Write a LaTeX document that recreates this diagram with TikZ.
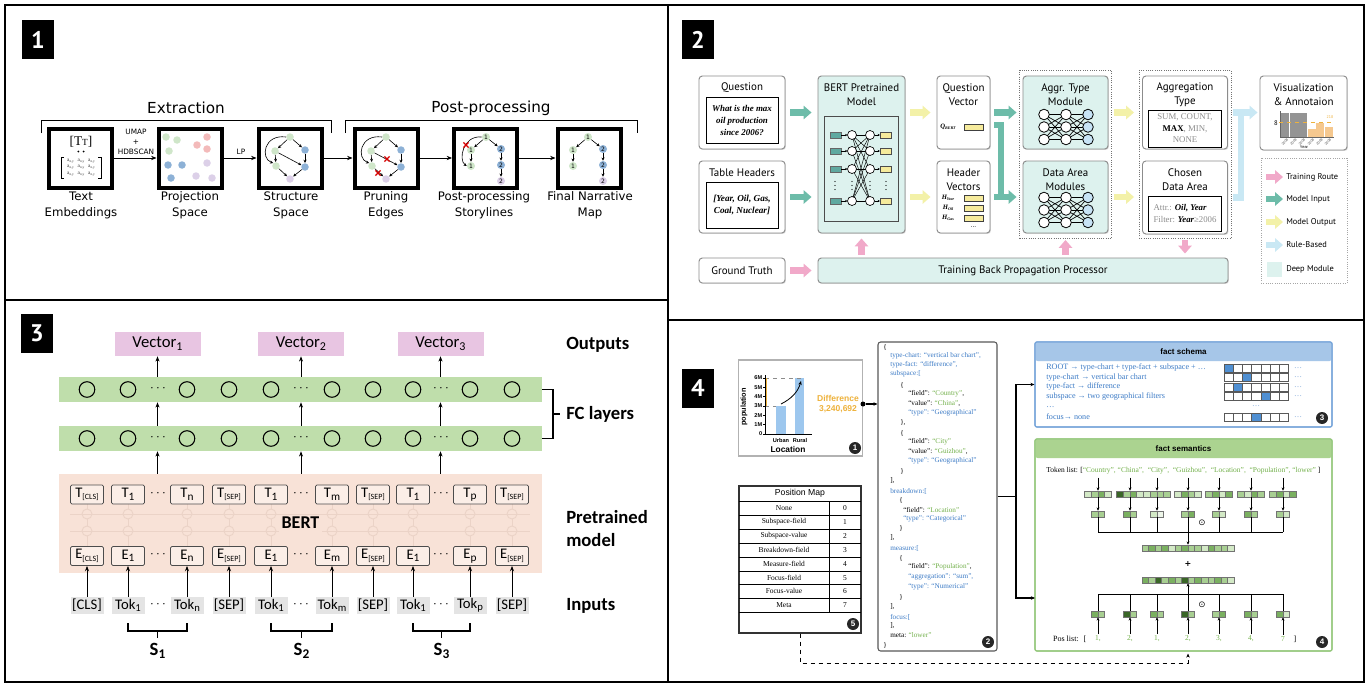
\documentclass[tikz,border=0pt]{standalone}
\usepackage{fontspec}
\setmainfont{Liberation Sans}
\newfontfamily\dejavu{DejaVu Sans}
\newfontfamily\ptsans{PT Sans}
\newfontfamily\carlito{Carlito}
\newfontfamily\timesf{Liberation Serif}
\usetikzlibrary{arrows.meta,calc,shadows}
\definecolor{dteal}{HTML}{DDF2EE}
\definecolor{tealA}{HTML}{6DBCA9}
\definecolor{yelA}{HTML}{F3F1A8}
\definecolor{pinkA}{HTML}{F1A9C9}
\definecolor{blueA}{HTML}{C9E8F4}
\definecolor{yelR}{HTML}{F6EB9C}
\definecolor{tealR}{HTML}{5FA9A0}
\definecolor{nodeLB}{HTML}{C7E3F5}
\definecolor{nodeG}{HTML}{CFE6C9}
\definecolor{nodeB}{HTML}{8DB1D6}
\definecolor{nodeP}{HTML}{F3BABA}
\definecolor{nodeV}{HTML}{DCD0E8}
\definecolor{vecP}{HTML}{E8C5E2}
\definecolor{fcG}{HTML}{BFDEAB}
\definecolor{peach}{HTML}{F8E2D7}
\definecolor{peachL}{HTML}{EBD3C7}
\definecolor{inG}{HTML}{E4E4E4}
\definecolor{hdrB}{HTML}{A6C6E8}
\definecolor{brdB}{HTML}{78A6DA}
\definecolor{txtB}{HTML}{3C7BC6}
\definecolor{hdrG}{HTML}{ABD390}
\definecolor{brdG}{HTML}{95C87C}
\definecolor{txtG}{HTML}{72B04A}
\definecolor{orgD}{HTML}{EEB23C}
\definecolor{orgL}{HTML}{F5C88F}
\definecolor{barB}{HTML}{9DC7EE}
\definecolor{cellB}{HTML}{4F8FD2}
\definecolor{g1}{HTML}{3A6627}
\definecolor{g2}{HTML}{7AB060}
\definecolor{g3}{HTML}{A8CF92}
\definecolor{g4}{HTML}{D3E9C6}
\definecolor{g5}{HTML}{EEF6E9}
\tikzset{
 wh/.style 2 args={minimum width=#1*0.75pt, minimum height=#2*0.75pt, inner sep=0pt},
 tag/.style={fill=black, text=white, font=\ptsans\bfseries\fontsize{18}{18}\selectfont, wh={32}{39}},
 p1box/.style={draw, line width=3pt, wh={63}{59}},
 p1lab/.style={font=\dejavu\fontsize{8.8}{12}\selectfont, align=center, inner sep=0pt},
 p1arr/.style={-{Stealth[length=4pt,width=3.2pt]}, line width=0.6pt},
 gn/.style={circle, fill=nodeG, minimum size=7.5*0.75pt, inner sep=0pt},
 bn/.style={circle, fill=nodeB, minimum size=7.5*0.75pt, inner sep=0pt},
 pn/.style={circle, fill=nodeP, minimum size=7.5*0.75pt, inner sep=0pt},
 vn/.style={circle, fill=nodeV, minimum size=7.5*0.75pt, inner sep=0pt},
 numn/.style={circle, minimum size=8*0.75pt, inner sep=0pt, font=\dejavu\fontsize{4.5}{4.5}\selectfont},
 ga/.style={-{Stealth[length=2.4pt,width=2.2pt]}, line width=0.45pt},
 p2box/.style={draw=black!45, fill=white, rounded corners=2.5pt, line width=0.7pt, drop shadow={shadow xshift=0.7pt, shadow yshift=-0.7pt, opacity=0.3}},
 p2t/.style={font=\ptsans\fontsize{8.2}{10.5}\selectfont, align=center, inner sep=0pt},
 grp/.style={draw=black!55, densely dotted, line width=0.7pt},
 fat/.style={draw=#1, line width=5pt, -{Triangle[length=6pt,width=10pt]}},
 leg/.style={anchor=west, font=\ptsans\fontsize{6.3}{7}\selectfont, inner sep=0pt},
 vecbox/.style={fill=vecP, wh={86}{24}, font=\carlito\fontsize{12.5}{12.5}\selectfont},
 fcl/.style={fill=fcG, wh={483}{25}},
 tb/.style={draw=black!70, fill=peach!60!white, rounded corners=1pt, line width=0.6pt, wh={33}{19}, font=\carlito\fontsize{11}{11}\selectfont},
 ib/.style={fill=inG, wh={33}{17}, font=\carlito\fontsize{11}{11}\selectfont},
 arr3/.style={-{Stealth[length=4pt,width=3pt]}, line width=0.6pt},
 dt/.style={inner sep=0pt, font=\fontsize{10}{10}\selectfont},
 rlab/.style={anchor=west, font=\carlito\bfseries\fontsize{14}{17}\selectfont, align=left, inner sep=0pt},
 cnum/.style={circle, fill=black!85, text=white, font=\bfseries\fontsize{6}{6}\selectfont, inner sep=0pt, minimum size=12*0.75pt},
 js/.style={anchor=west, inner sep=0pt, font=\timesf\fontsize{5.4}{6}\selectfont, text=txtB},
 sch/.style={anchor=west, inner sep=0pt, font=\timesf\fontsize{6.1}{7}\selectfont, text=txtB},
 pmt/.style={inner sep=0pt, font=\timesf\fontsize{5.6}{6}\selectfont},
 sarr/.style={-{Stealth[length=2.5pt,width=2.2pt]}, line width=0.5pt},
 tiny/.style={inner sep=0pt, font=\bfseries\fontsize{4.2}{4.2}\selectfont},
}
\newcommand\sbs[2]{\raisebox{-0.35ex}{\fontsize{#1}{#1}\selectfont #2}}
\newcommand\redx[2]{\draw[red!85!black, line width=0.9pt] (#1-2.6,#2-2.6) -- (#1+2.6,#2+2.6) (#1-2.6,#2+2.6) -- (#1+2.6,#2-2.6);}
\newcommand\sgraph[2]{%
 \node[gn] (#1a) at (#2,137) {};
 \node[gn] (#1b) at (#2-15,151) {};
 \node[bn] (#1c) at (#2+15,150) {};
 \node[gn] (#1d) at (#2-14,166) {};
 \node[bn] (#1e) at (#2+15,167) {};
 \node[vn] (#1f) at (#2,179) {};
 \draw[ga] (#1a) -- (#1b);
 \draw[ga] (#1a) -- (#1c);
 \draw[ga] (#1b) -- (#1d);
 \draw[ga] (#1b) -- (#1e);
 \draw[ga] (#1c) -- (#1e);
 \draw[ga] (#1d) -- (#1f);
 \draw[ga] (#1e) -- (#1f);
 \draw[ga] (#1a.west) .. controls (#2-26,134) and (#2-30,158) .. (#1d.north west);
}
\newcommand\nnet[4]{%
 \foreach \ya in {#2,#3,#4}{\foreach \yb in {#2,#3,#4}{%
   \draw[line width=0.5pt] (#1-22,\ya) -- (#1,\yb);
   \draw[line width=0.5pt] (#1,\ya) -- (#1+22,\yb);}}%
 \foreach \yy in {#2,#3,#4}{%
   \draw[fill=white, line width=0.6pt] (#1-22,\yy) circle[radius=5.3];
   \draw[fill=white, line width=0.6pt] (#1,\yy) circle[radius=5.3];
   \draw[fill=nodeLB, line width=0.6pt] (#1+22,\yy) circle[radius=5.3];}%
}
\newcommand\cvec[6]{%
  \pgfmathsetmacro\cvw{#4*#5}%
  \pgfmathsetmacro\cvx{#2-\cvw/2}%
  \node[inner sep=0pt, minimum width=\cvw*0.75pt, minimum height=4.5pt] (#1) at (#2,#3) {};
  \foreach \cc [count=\ci from 0] in {#6}{%
    \filldraw[fill=\cc, draw=black!55, line width=0.35pt] (\cvx+\ci*#5,#3-3) rectangle (\cvx+\ci*#5+#5,#3+3);
  }%
}
\begin{document}
\begin{tikzpicture}[x=0.75pt,y=-0.75pt]
\useasboundingbox (0,0) rectangle (1367,685);
\fill[white] (0,0) rectangle (1367,685);

%%%%%%%%%%%%%%%% PANEL 1
\node[tag] (n1) at (38,39.5) {1};
\node[font=\dejavu\fontsize{11.4}{12}\selectfont] (extr) at (186,108) {Extraction};
\node[font=\dejavu\fontsize{11.4}{12}\selectfont] (postp) at (491,108) {Post-processing};
\draw[line width=0.6pt] (41,133) -- (41,120) -- (331,120) -- (331,133);
\draw[line width=0.6pt] (345,133) -- (345,120) -- (637,120) -- (637,133);
\node[p1box] (b1) at (80.5,158) {};
\node[p1box] (b2) at (190,158) {};
\node[p1box] (b3) at (290,158) {};
\node[p1box] (b4) at (386,158) {};
\node[p1box] (b5) at (485.5,158) {};
\node[p1box] (b6) at (589,158) {};
\node[p1lab] (l1) at (81,205) {Text\\Embeddings};
\node[p1lab] (l2) at (190,205) {Projection\\Space};
\node[p1lab] (l3) at (291,205) {Structure\\Space};
\node[p1lab] (l4) at (386,205) {Pruning\\Edges};
\node[p1lab] (l5) at (484,205) {Post-processing\\Storylines};
\node[p1lab] (l6) at (590,205) {Final Narrative\\Map};
\draw[p1arr] (b1) -- (b2);
\draw[p1arr] (b2) -- (b3);
\draw[p1arr] (b3) -- (b4);
\draw[p1arr] (b4) -- (b5);
\draw[p1arr] (b5) -- (b6);
\node[font=\dejavu\fontsize{5.5}{7.5}\selectfont, align=center, inner sep=0pt] (umap) at (136,142) {UMAP\\+\\HDBSCAN};
\node[font=\dejavu\fontsize{5.5}{7.5}\selectfont, inner sep=0pt] (lp) at (241,152) {LP};
% box 1 content
\node[font=\timesf\fontsize{10}{10}\selectfont, inner sep=0pt] (ttok) at (81,142) {[T{\fontsize{7}{7}\selectfont T}]};
\fill (78.3,151.5) circle[radius=1]; \fill (83.7,151.5) circle[radius=1];
\draw[line width=0.5pt] (64,157) -- (61,157) -- (61,178) -- (64,178);
\draw[line width=0.5pt] (98,157) -- (101,157) -- (101,178) -- (98,178);
\foreach \yy [count=\i] in {161,167.5,174}{\foreach \xx [count=\j] in {70.5,81,91.5}{%
  \node[font=\timesf\fontsize{4}{4}\selectfont, inner sep=0pt, text=black!75] (mx\i\j) at (\xx,\yy) {a\sbs{2.6}{n,y}};}}
% box 2 content
\foreach \px/\py [count=\i] in {166/137,177/140,169/151}{\node[gn] (pg\i) at (\px,\py) {};}
\foreach \px/\py [count=\i] in {207/137,197/145,207/149}{\node[pn] (pp\i) at (\px,\py) {};}
\foreach \px/\py [count=\i] in {168/165,182/165,171/178}{\node[bn] (pb\i) at (\px,\py) {};}
\foreach \px/\py [count=\i] in {207/163,196/176,212/178}{\node[vn] (pv\i) at (\px,\py) {};}
% box 3, 4
\sgraph{sa}{290}
\sgraph{sb}{386}
\redx{387}{159}
\redx{378}{173}
% box 5
\node[numn, fill=nodeG] (s5a) at (486,137) {1};
\node[numn, fill=nodeG] (s5b) at (471,150) {1};
\node[numn, fill=nodeG] (s5c) at (471,166) {1};
\node[numn, fill=nodeB] (s5d) at (501,149) {2};
\node[numn, fill=nodeB] (s5e) at (501,165) {2};
\node[numn, fill=nodeV] (s5f) at (501,181) {2};
\draw[ga] (s5a) -- (s5b);
\draw[ga] (s5a) -- (s5d);
\draw[ga] (s5b) -- (s5c);
\draw[ga] (s5d) -- (s5e);
\draw[ga] (s5e) -- (s5f);
\draw[ga] (s5a.west) .. controls (463,135) and (458,160) .. (s5c.west);
\redx{466}{145}
% box 6
\node[numn, fill=nodeG] (s6a) at (588,137) {1};
\node[numn, fill=nodeG] (s6b) at (573,150) {1};
\node[numn, fill=nodeG] (s6c) at (573,166) {1};
\node[numn, fill=nodeB] (s6d) at (603,149) {2};
\node[numn, fill=nodeB] (s6e) at (603,165) {2};
\node[numn, fill=nodeV] (s6f) at (603,181) {2};
\draw[ga] (s6a) -- (s6b);
\draw[ga] (s6a) -- (s6d);
\draw[ga] (s6b) -- (s6c);
\draw[ga] (s6d) -- (s6e);
\draw[ga] (s6e) -- (s6f);

%%%%%%%%%%%%%%%% PANEL 2
\node[tag] (n2) at (698,39.5) {2};
\node[p2box, wh={86}{73}] (qbox) at (742,112.5) {};
\node[p2t] (qt) at (742,88) {Question};
\node[draw, line width=0.7pt, wh={72}{46}, font=\timesf\bfseries\itshape\fontsize{6.7}{9}\selectfont, align=center] (qin) at (742,120) {What is the max\\oil production\\since 2006?};
\node[p2box, wh={86}{72}] (tbox) at (742,197) {};
\node[p2t] (tht) at (742,173) {Table Headers};
\node[draw, line width=0.7pt, wh={72}{46}, font=\timesf\bfseries\itshape\fontsize{6.9}{9.6}\selectfont, align=center] (tin) at (742,205) {[Year, Oil, Gas,\\Coal, Nuclear]};
\node[p2box, wh={86}{25}, font=\ptsans\fontsize{8.2}{9}\selectfont] (gt) at (742,270.5) {Ground Truth};
% BERT
\node[p2box, fill=dteal, wh={87}{157}] (bert) at (861.5,154.5) {};
\node[p2t] (bertt) at (861.5,95) {BERT Pretrained\\Model};
\node[draw=black!70, line width=0.7pt, wh={74}{105}] (bertin) at (861,168.5) {};
\foreach \r in {135,151,169,201}{
  \draw[fill=tealR, draw=black!60, line width=0.4pt] (830,\r-3) rectangle (841,\r+3);
  \draw[fill=yelR, draw=black!70, line width=0.4pt] (880,\r-3) rectangle (891,\r+3);
  \draw[-{Stealth[length=1.8pt,width=1.6pt]}, line width=0.35pt] (841,\r) -- (847.5,\r);
  \draw[-{Stealth[length=1.8pt,width=1.6pt]}, line width=0.35pt] (874.5,\r) -- (880,\r);
}
\foreach \a/\b in {135/151,135/169,151/135,151/201,169/201,169/135,201/151,201/169,135/201,201/135,135/135,151/151,169/169,201/201}{
  \draw[line width=0.35pt] (852,\a) -- (870,\b);
}
\foreach \r in {135,151,169,201}{
  \draw[fill=white, line width=0.5pt] (852,\r) circle[radius=4.5];
  \draw[fill=white, line width=0.5pt] (870,\r) circle[radius=4.5];
}
\foreach \xx in {835,852,870,886}{\foreach \yy in {181.5,185.5,189.5}{\fill (\xx,\yy) circle[radius=0.7];}}
% vectors
\node[p2box, wh={53}{73}] (qvec) at (963.5,112.5) {};
\node[p2t] (qvt) at (963.5,95) {Question\\Vector};
\node[inner sep=0pt, font=\timesf\bfseries\itshape\fontsize{5}{5}\selectfont] (qlab) at (948,127) {Q\sbs{3}{BERT}};
\node[draw=black!75, fill=yelR, line width=0.5pt, wh={19}{6}] (qr) at (973.5,127) {};
\node[p2box, wh={53}{72}] (hvec) at (963.5,197) {};
\node[p2t] (hvt) at (963.5,180) {Header\\Vectors};
\foreach \yy/\hl [count=\i] in {198/Year,208/Oil,218/Gas}{
  \node[inner sep=0pt, font=\timesf\bfseries\itshape\fontsize{5}{5}\selectfont] (hl\i) at (948,\yy) {H\sbs{3}{\hl}};
  \node[draw=black!75, fill=yelR, line width=0.5pt, wh={19}{6}] (hr\i) at (973.5,\yy) {};
}
\node[inner sep=0pt, font=\fontsize{5}{5}\selectfont] (hdots) at (973.5,227) {...};
% modules
\node[grp, wh={92}{168}] (grp1) at (1065.5,154.5) {};
\node[p2box, fill=dteal, wh={85}{73}] (amod) at (1065.5,112.5) {};
\node[p2t] (amt) at (1065.5,95) {Aggr. Type\\Module};
\nnet{1066}{114.5}{127}{139.5}
\node[p2box, fill=dteal, wh={85}{72}] (dmod) at (1065.5,197) {};
\node[p2t] (dmt) at (1065.5,180) {Data Area\\Modules};
\nnet{1066}{197.5}{210}{222.5}
% outputs
\node[grp, wh={92}{168}] (grp2) at (1185,154.5) {};
\node[p2box, wh={85}{73}] (aggt) at (1185,112.5) {};
\node[p2t] (agt) at (1185,95) {Aggregation\\Type};
\node[draw, line width=0.7pt, wh={73}{37}, font=\timesf\fontsize{6.6}{8.6}\selectfont, text=black!45, align=center] (aggin) at (1185,128.5) {SUM, COUNT,\\{\color{black}\bfseries MAX}, MIN,\\NONE};
\node[p2box, wh={85}{73}] (cda) at (1185,197.5) {};
\node[p2t] (cdt) at (1185,180) {Chosen\\Data Area};
\node[draw, line width=0.7pt, wh={73}{35}, font=\timesf\fontsize{6.6}{9}\selectfont, text=black!45, align=left] (cdain) at (1185,213.5) {Attr.: {\color{black}\bfseries\itshape Oil, Year}\\Filter: {\color{black}\bfseries\itshape Year}≥2006};
% visualization
\node[p2box, wh={87}{74}] (vis) at (1303.5,113) {};
\node[p2t] (vist) at (1303.5,95) {Visualization\\\& Annotaion};
\draw[line width=0.3pt, black!60] (1280,111) -- (1280,137.5) -- (1334,137.5);
\foreach \xa in {1281,1289.7,1298.4}{\fill[black!42] (\xa,113) rectangle (\xa+8.2,137);}
\foreach \xa/\tp in {1307.5/129,1316/123,1324.5/127}{\fill[orgL] (\xa,\tp) rectangle (\xa+8,137);}
\draw[orgD, dashed, line width=0.4pt] (1279,122) -- (1334,122);
\node[inner sep=0pt, font=\ptsans\fontsize{5}{5}\selectfont] (v8) at (1276,123) {8};
\node[inner sep=0pt, font=\ptsans\fontsize{3}{3}\selectfont, text=orgD] (v218) at (1330,117.5) {218};
\foreach \xa [count=\k] in {1285,1293.5,1302,1311,1319.5,1328}{\node[rotate=45, font=\fontsize{2.6}{2.6}\selectfont, text=black!70, inner sep=0pt] (yl\k) at (\xa,142) {2008};}
\node[inner sep=0pt, font=\fontsize{3}{3}\selectfont] (vyr) at (1304,147) {Year};
% legend
\node[grp, draw=black!35, wh={86}{125}] (legend) at (1304,220.5) {};
\node[leg] (lg1) at (1286,177) {Training Route};
\node[leg] (lg2) at (1286,199) {Model Input};
\node[leg] (lg3) at (1286,222) {Model Output};
\node[leg] (lg4) at (1286,245) {Rule-Based};
\node[leg] (lg5) at (1286,269) {Deep Module};
\draw[fat=pinkA] ($(lg1.west)+(-20,0)$) -- ($(lg1.west)+(-3,0)$);
\draw[fat=tealA] ($(lg2.west)+(-20,0)$) -- ($(lg2.west)+(-3,0)$);
\draw[fat=yelA] ($(lg3.west)+(-20,0)$) -- ($(lg3.west)+(-3,0)$);
\draw[fat=blueA] ($(lg4.west)+(-20,0)$) -- ($(lg4.west)+(-3,0)$);
\node[fill=dteal, wh={15}{15}] (lgsq) at ($(lg5.west)+(-12,0)$) {};
% training
\node[p2box, fill=dteal, wh={410}{25}, font=\ptsans\fontsize{8.2}{9}\selectfont] (tbpp) at (1023,270.5) {Training Back Propagation Processor};
% fat arrows
\draw[fat=tealA] ($(qbox.east)+(5,0)$) -- ($(bert.west |- qbox.east)+(-6,0)$);
\draw[fat=tealA] ($(tbox.east)+(5,0)$) -- ($(bert.west |- tbox.east)+(-6,0)$);
\draw[fat=pinkA] ($(gt.east)+(5,0)$) -- ($(tbpp.west |- gt.east)+(-6,0)$);
\draw[fat=yelA] ($(bert.east |- qvec.west)+(5,0)$) -- ($(qvec.west)+(-6,0)$);
\draw[fat=yelA] ($(bert.east |- hvec.west)+(5,0)$) -- ($(hvec.west)+(-6,0)$);
\coordinate (tj) at (1001,125);
\draw[fat=tealA] ($(qvec.east)+(4,0)$) -- ($(amod.west)+(-6,0)$);
\draw[draw=tealA, line width=5pt] ($(qvec.east |- tj)+(4,0)$) -- (tj) -- (tj |- hvec.east);
\draw[fat=tealA] ($(hvec.east)+(4,0)$) -- ($(dmod.west |- hvec.east)+(-6,0)$);
\draw[fat=yelA] ($(amod.east)+(6,0)$) -- ($(aggt.west)+(-8,0)$);
\draw[fat=yelA] ($(dmod.east)+(6,0)$) -- ($(cda.west |- dmod.east)+(-8,0)$);
\coordinate (bj) at (1241,112.5);
\draw[draw=blueA, line width=5pt] ($(cda.east)+(5,0)$) -- (cda.east -| bj) -- (bj);
\draw[fat=blueA] ($(aggt.east)+(5,0)$) -- ($(vis.west |- aggt.east)+(-2,0)$);
\draw[fat=pinkA] ($(tbpp.north -| bert.south)+(0,-3)$) -- ($(bert.south)+(0,5)$);
\draw[fat=pinkA] ($(tbpp.north -| grp1.south)+(0,-3)$) -- ($(grp1.south)+(0,1)$);
\draw[fat=pinkA] ($(grp2.south)+(0,1)$) -- ($(tbpp.north -| grp2.south)+(0,-4)$);

%%%%%%%%%%%%%%%% PANEL 3
\node[tag] (n3) at (37,333) {3};
\node[vecbox] (v1) at (157.5,344) {Vector\sbs{9}{1}};
\node[vecbox] (v2) at (301,344) {Vector\sbs{9}{2}};
\node[vecbox] (v3) at (440.5,344) {Vector\sbs{9}{3}};
\node[fcl] (fc1) at (300.5,389.5) {};
\node[fcl] (fc2) at (300.5,438.5) {};
\node[fill=peach, wh={483}{99}] (bertb) at (300.5,523.5) {};
\foreach \x in {87,128,187,229,271,332,373,413,470,512}{
  \draw[line width=0.8pt] (\x,389.5) circle[radius=7.8];
  \draw[line width=0.8pt] (\x,438.5) circle[radius=7.8];
  \draw[peachL, line width=0.7pt] (\x,504) -- (\x,546);
  \draw[peachL, line width=0.7pt, fill=peach] (\x,514) circle[radius=5];
  \draw[peachL, line width=0.7pt, fill=peach] (\x,531) circle[radius=5];
}
\draw[peachL, line width=0.7pt] (70,514) -- (530,514);
\draw[peachL, line width=0.7pt] (70,531) -- (530,531);
\node[inner sep=2pt, fill=peach, font=\carlito\bfseries\fontsize{13.5}{13.5}\selectfont] (bertl) at (300.5,523) {BERT};
\foreach \x/\nm/\lab/\sz in {87/a/{[CLS]}/6,128/b/1/8.5,187/c/n/8.5,229/d/{[SEP]}/6,271/e/1/8.5,332/f/m/8.5,373/g/{[SEP]}/6,413/h/1/8.5,470/i/p/8.5,512/j/{[SEP]}/6}{
  \node[tb] (T\nm) at (\x,494.5) {T\sbs{\sz}{\lab}};
  \node[tb] (E\nm) at (\x,556) {E\sbs{\sz}{\lab}};
}
\foreach \x/\nm/\lab in {87/a/{[CLS]},128/b/{Tok\sbs{8}{1}},187/c/{Tok\sbs{8}{n}},229/d/{[SEP]},271/e/{Tok\sbs{8}{1}},332/f/{Tok\sbs{8}{m}},373/g/{[SEP]},413/h/{Tok\sbs{8}{1}},470/i/{Tok\sbs{8}{p}},512/j/{[SEP]}}{
  \node[ib] (I\nm) at (\x,605.5) {\lab};
  \draw[arr3] (I\nm) -- (E\nm);
}
\foreach \x [count=\k] in {158,301,441}{
  \node[dt] (dfa\k) at (\x,388.5) {$\cdots$};
  \node[dt] (dfb\k) at (\x,437.5) {$\cdots$};
  \node[dt] (dta\k) at (\x,493.5) {$\cdots$};
  \node[dt] (dea\k) at (\x,555) {$\cdots$};
  \node[dt] (dia\k) at (\x,604.5) {$\cdots$};
}
\draw[arr3] (fc1.north -| v1) -- (v1.south);
\draw[arr3] (fc1.north -| v2) -- (v2.south);
\draw[arr3] (fc1.north -| v3) -- (v3.south);
\draw[arr3] (fc2.north -| v1) -- (fc1.south -| v1);
\draw[arr3] (fc2.north -| v2) -- (fc1.south -| v2);
\draw[arr3] (fc2.north -| v3) -- (fc1.south -| v3);
\draw[arr3] (bertb.north -| v1) -- (fc2.south -| v1);
\draw[arr3] (bertb.north -| v2) -- (fc2.south -| v2);
\draw[arr3] (bertb.north -| v3) -- (fc2.south -| v3);
\draw[line width=0.8pt] (542,389.5) -- (553,389.5) -- (553,438.5) -- (542,438.5);
\draw[line width=0.8pt] (553,414) -- (560,414);
\foreach \xa/\xb/\k in {128/187/1,271/332/2,413/470/3}{
  \draw[line width=0.8pt] (\xa,623) -- (\xa,631) -- (\xb,631) -- (\xb,623);
  \draw[line width=0.8pt] ({(\xa+\xb)/2},631) -- ({(\xa+\xb)/2},638);
  \node[inner sep=0pt, font=\carlito\bfseries\fontsize{14}{14}\selectfont] (S\k) at ({(\xa+\xb)/2},651) {S\sbs{10}{\k}};
}
\node[rlab] (outl) at (566,345) {Outputs};
\node[rlab] (fcll) at (566,414) {FC layers};
\node[rlab] (prel) at (566,528.5) {Pretrained\\model};
\node[rlab] (inpl) at (566,606) {Inputs};

%%%%%%%%%%%%%%%% PANEL 4
\node[tag] (n4) at (698,388) {4};
% chart
\node[draw=black!30, fill=white, line width=0.8pt, wh={124}{96}, drop shadow={shadow xshift=0.7pt, shadow yshift=-0.7pt, opacity=0.3}] (chart) at (800.5,408) {};
\fill[barB] (776,406) rectangle (786,434);
\fill[barB] (795,378) rectangle (804,434);
\draw[black!45, dashed, line width=0.4pt] (765,378) -- (804,378);
\draw[black!45, dashed, line width=0.4pt] (765,406) -- (776,406);
\draw[orgD, line width=0.9pt] (766,378) -- (766,406);
\draw[line width=0.5pt] (765,375) -- (765,434) -- (812,434);
\foreach \lab/\yy [count=\k] in {0/434,1M/424.7,2M/415.3,3M/406,4M/396.7,5M/387.3,6M/378}{
  \draw[line width=0.4pt] (763,\yy) -- (765,\yy);
  \node[tiny, anchor=east] (tk\k) at (762.5,\yy) {\lab};
}
\node[inner sep=0pt, rotate=90, font=\bfseries\fontsize{5.5}{5.5}\selectfont] (poplab) at (744,407) {population};
\node[tiny] (urb) at (781,440) {Urban};
\node[tiny] (rur) at (800,440) {Rural};
\node[inner sep=0pt, font=\bfseries\fontsize{6.3}{6.3}\selectfont] (locl) at (788,449) {Location};
\coordinate (cu) at (781,404);
\coordinate (cr) at (801,381);
\draw[-{Stealth[length=3pt,width=2.6pt]}, line width=0.6pt] (cu) .. controls (791,399) and (798,392) .. (cr);
\node[inner sep=0pt, align=center, text=orgD, font=\bfseries\fontsize{6.4}{7.8}\selectfont] (diff) at (838,404) {Difference\\3,240,692};
\node[cnum] (c1) at (855,448) {1};
\node[circle, fill=black, inner sep=0pt, minimum size=5*0.75pt] (dot1) at (863,404) {};
% position map
\node[draw=black!80, fill=white, line width=0.8pt, wh={122}{147}, drop shadow={shadow xshift=0.7pt, shadow yshift=-0.7pt, opacity=0.3}] (pmap) at (800,559.5) {};
\node[inner sep=0pt, font=\fontsize{6.5}{6.5}\selectfont] (pmh) at (800,493.5) {Position Map};
\foreach \yy in {501,515,529,543,557,571,584.5,598,612}{\draw[line width=0.7pt] (739,\yy) -- (861,\yy);}
\draw[line width=0.7pt] (829,501) -- (829,612);
\foreach \lab/\v/\yy [count=\k] in {None/0/508,Subspace-field/1/522,Subspace-value/2/536,Breakdown-field/3/550,Measure-field/4/564,Focus-field/5/577.8,Focus-value/6/591.3,Meta/7/605}{
  \node[pmt] (pml\k) at (784,\yy) {\lab};
  \node[pmt] (pmv\k) at (845,\yy) {\v};
}
\node[cnum] (c5) at (853,624) {5};
% json
\node[draw=black!65, fill=white, rounded corners=2pt, line width=0.8pt, wh={119}{309}] (json) at (937.5,496.5) {};
\draw[line width=0.8pt, -{Stealth[length=3pt,width=2.6pt]}] (dot1) -- (dot1 -| json.west);
\node[js, text=black] (j01) at (883,347) {\{};
\node[js] (j02) at (890,356) {type-chart: “vertical bar chart”,};
\node[js] (j03) at (890,365) {type-fact: “difference”,};
\node[js] (j04) at (890,374) {subspace:[};
\node[js, text=black] (j05) at (900,385) {\{};
\node[js, text=black] (j06) at (908,394) {“field”: {\color{txtG}“Country”},};
\node[js, text=black] (j07) at (908,404) {“value”: {\color{txtG}“China”},};
\node[js] (j08) at (908,413) {“type”: “Geographical”};
\node[js, text=black] (j09) at (900,423) {\},};
\node[js, text=black] (j10) at (900,433) {\{};
\node[js, text=black] (j11) at (908,442) {“field”: {\color{txtG}“City”}};
\node[js, text=black] (j12) at (908,452) {“value”: {\color{txtG}“Guizhou”},};
\node[js] (j13) at (908,461) {“type”: “Geographical”};
\node[js, text=black] (j14) at (900,471) {\}};
\node[js, text=black] (j15) at (890,481) {],};
\node[js] (j16) at (890,491) {breakdown:[};
\node[js, text=black] (j17) at (899,500) {\{};
\node[js, text=black] (j18) at (903,510) {“field”: {\color{txtG}“Location”}};
\node[js] (j19) at (903,519) {“type”: “Categorical”};
\node[js, text=black] (j20) at (899,528) {\}};
\node[js, text=black] (j21) at (890,538) {],};
\node[js] (j22) at (890,548) {measure:[};
\node[js, text=black] (j23) at (899,558) {\{};
\node[js, text=black] (j24) at (908,567) {“field”: {\color{txtG}“Population”},};
\node[js] (j25) at (908,577) {“aggregation”: “sum”,};
\node[js] (j26) at (908,587) {“type”: “Numerical”};
\node[js, text=black] (j27) at (899,597) {\}};
\node[js, text=black] (j28) at (890,607) {],};
\node[js] (j29) at (890,617) {focus:[};
\node[js, text=black] (j30) at (890,626) {],};
\node[js, text=black] (j31) at (890,635) {meta: {\color{txtG}“lower”}};
\node[js, text=black] (j32) at (883,645) {\}};
\node[cnum] (c2) at (988,642) {2};
% fact schema
\node[draw=brdB, fill=white, rounded corners=1.5pt, line width=0.9pt, wh={297}{85}] (fsch) at (1183.5,384.5) {};
\fill[hdrB, rounded corners=1.5pt] (1035.5,342.5) rectangle (1331.5,361);
\draw[draw=brdB, rounded corners=1.5pt, line width=0.9pt] (1035,342) rectangle (1332,427);
\node[inner sep=0pt, font=\bfseries\fontsize{6}{6}\selectfont] (fst) at (1183.5,351.5) {fact schema};
\node[sch] (sc1) at (1046,368) {ROOT → type-chart + type-fact + subspace + …};
\node[sch] (sc2) at (1046,377.5) {type-chart → vertical bar chart};
\node[sch] (sc3) at (1046,387) {type-fact → difference};
\node[sch] (sc4) at (1046,396.5) {subspace → two geographical filters};
\node[sch] (sc5) at (1046,407) {…};
\node[sch] (sc6) at (1046,417) {focus→ none};
\foreach \yy/\hb [count=\r] in {368/0,377.5/2,387/1,396.5/4,417/3}{
  \foreach \c in {0,...,6}{\draw[line width=0.45pt, draw=black!65, fill=white] (1224+\c*9.2,\yy-4) rectangle ++(9.2,8);}
  \draw[line width=0.45pt, draw=black!65, fill=cellB] (1224+\hb*9.2,\yy-4) rectangle ++(9.2,8);
  \node[inner sep=0pt, font=\timesf\fontsize{6}{6}\selectfont, text=txtB!70] (gd\r) at (1298,\yy) {…};
}
\node[inner sep=0pt, font=\timesf\fontsize{6}{6}\selectfont, text=txtB!70] (gdm) at (1256,406) {…};
\node[cnum] (c3) at (1322,418) {3};
% fact semantics
\node[draw=brdG, fill=white, rounded corners=1.5pt, line width=0.9pt, wh={297}{212}] (fsem) at (1183.5,545) {};
\fill[hdrG, rounded corners=1.5pt] (1035.5,439.5) rectangle (1331.5,458);
\draw[draw=brdG, rounded corners=1.5pt, line width=0.9pt] (1035,439) rectangle (1332,651);
\node[inner sep=0pt, font=\bfseries\fontsize{6}{6}\selectfont] (fset) at (1183.5,448.5) {fact semantics};
\node[anchor=west, inner sep=0pt, font=\timesf\fontsize{5.6}{6}\selectfont] (tok) at (1046,471) {Token list: [{\color{txtG}“Country”, “China”,\ \ “City”,\ \ “Guizhou”,\ \ “Location”,\ \ “Population”, “lower”} ]};
\cvec{t1}{1098}{494}{4}{6.7}{g4,g3,g2,g4}
\cvec{t2}{1130}{494}{4}{6.7}{g1,g3,g2,g4}
\cvec{t3}{1157}{494}{4}{6.7}{g4,g3,g3,g3}
\cvec{t4}{1188}{494}{4}{6.7}{g4,g2,g3,g4}
\cvec{t5}{1219}{494}{4}{6.7}{g3,g2,g4,g2}
\cvec{t6}{1251}{494}{4}{6.7}{g3,g4,g2,g3}
\cvec{t7}{1283}{494}{4}{6.7}{g3,g2,g4,g2}
\cvec{u1}{1098}{514}{2}{6.7}{g3,g3}
\cvec{u2}{1130}{514}{2}{6.7}{g2,g3}
\cvec{u3}{1157}{514}{2}{6.7}{g4,g5}
\cvec{u4}{1188}{514}{2}{6.7}{g3,g2}
\cvec{u5}{1219}{514}{2}{6.7}{g3,g4}
\cvec{u6}{1251}{514}{2}{6.7}{g2,g3}
\cvec{u7}{1283}{514}{2}{6.7}{g3,g4}
\cvec{lv1}{1188}{548}{14}{6.6}{g3,g2,g3,g2,g4,g3,g2,g3,g3,g4,g2,g3,g3,g4}
\cvec{lv2}{1188}{580}{14}{6.6}{g2,g3,g1,g3,g2,g3,g1,g3,g2,g3,g3,g2,g3,g4}
\cvec{w1}{1098}{614}{2}{6.7}{g2,g3}
\cvec{w2}{1130}{614}{2}{6.7}{g1,g3}
\cvec{w3}{1157}{614}{2}{6.7}{g2,g3}
\cvec{w4}{1188}{614}{2}{6.7}{g1,g3}
\cvec{w5}{1219}{614}{2}{6.7}{g3,g2}
\cvec{w6}{1251}{614}{2}{6.7}{g2,g3}
\cvec{w7}{1283}{614}{2}{6.7}{g2,g4}
\coordinate (hl1) at (1188,532);
\coordinate (hl2) at (1188,594);
\foreach \i in {1,...,7}{
  \draw[sarr] ($(t\i.north |- tok.south)+(0,3)$) -- (t\i.north);
  \draw[sarr] (t\i.south) -- (u\i.north);
  \draw[line width=0.5pt] (u\i.south) -- (u\i.south |- hl1);
  \draw[line width=0.5pt] (w\i.north) -- (w\i.north |- hl2);
}
\draw[line width=0.6pt] (u1.south |- hl1) -- (u7.south |- hl1);
\draw[line width=0.6pt] (w1.north |- hl2) -- (w7.north |- hl2);
\draw[sarr] (hl1) -- (lv1.north);
\draw[sarr] (hl2) -- (lv2.south);
\node[inner sep=0pt, font=\dejavu\fontsize{6.5}{6.5}\selectfont] (odot1) at (1202,523) {⊙};
\node[inner sep=0pt, font=\dejavu\fontsize{6.5}{6.5}\selectfont] (odot2) at (1202,605) {⊙};
\node[inner sep=0pt, font=\dejavu\bfseries\fontsize{6}{6}\selectfont] (plus) at (1188,563.5) {+};
\node[anchor=east, inner sep=0pt, font=\timesf\fontsize{6}{6}\selectfont] (posl) at (1079,639) {Pos list:};
\node[inner sep=0pt, font=\timesf\fontsize{6}{6}\selectfont] (posb1) at (1085,639) {[};
\node[inner sep=0pt, font=\timesf\fontsize{6}{6}\selectfont] (posb2) at (1295,639) {]};
\foreach \xx/\v [count=\i] in {1098/{1,},1130/{2,},1157/{1,},1188/{2,},1219/{3,},1251/{4,},1283/7}{
  \node[inner sep=0.5pt, font=\timesf\fontsize{5.6}{6}\selectfont, text=txtG] (p\i) at (\xx,639) {\v};
  \draw[sarr] ($(p\i.north)+(0,-1)$) -- (w\i.south);
}
\node[cnum] (c4) at (1322,642) {4};
% connectors json -> boxes
\coordinate (jx) at (1016,496.5);
\coordinate (semin) at (1035,598);
\draw[line width=0.8pt] (json.east) -- (jx);
\draw[line width=0.8pt, -{Stealth[length=3pt,width=2.6pt]}] (jx) |- (fsch.west);
\draw[line width=0.8pt, -{Stealth[length=3pt,width=2.6pt]}] (jx) |- (semin);
% dashed position map link
\coordinate (dd) at (1188,663);
\draw[line width=0.7pt, dashed, -{Stealth[length=3pt,width=2.6pt]}, shorten >=1.5pt] (pmap.south) |- (dd) -- (dd |- fsem.south);

%%%%%%%%%%%%%%%% FRAMES
\draw[line width=2.2pt] (5,5) rectangle (1364,682);
\draw[line width=2.2pt] (668,5) -- (668,682);
\draw[line width=2.2pt] (5,300) -- (668,300);
\draw[line width=2.2pt] (668,320) -- (1364,320);
\end{tikzpicture}
\end{document}
